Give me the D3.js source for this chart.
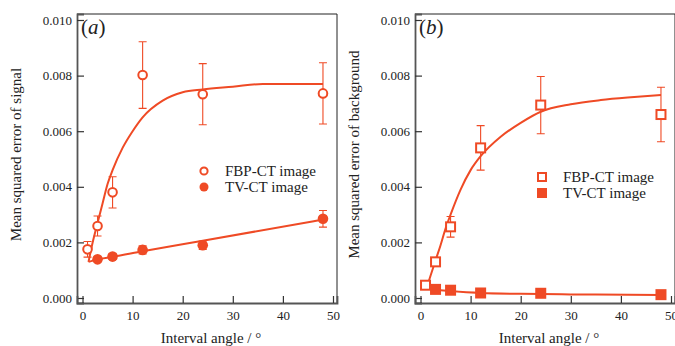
<!DOCTYPE html>
<html>
<head>
<meta charset="utf-8">
<script src="https://cdn.jsdelivr.net/npm/d3@7"></script>
<style>
  body { margin: 0; background: #fff; }
  svg, svg text { font-family: "Liberation Serif", "Times New Roman", serif !important; }
</style>
</head>
<body>
<script>
const angles = [1, 3, 6, 12, 24, 48];

// panel (a) signal
const fbpSignal = [0.00175, 0.00259, 0.0038, 0.00802, 0.00733, 0.00736];
const fbpSignalErr = [0.00028, 0.00036, 0.00056, 0.0012, 0.0011, 0.0011];
const tvSignal = [null, 0.00139, 0.00149, 0.00173, 0.0019, 0.00285];
const tvSignalErr = [null, 0.00008, 0.0001, 0.00015, 0.00015, 0.0003];

// fit curves
const fitAngleA = [1.2, 2, 3, 4, 5, 6, 8, 10, 12, 16, 20, 24, 30, 36, 48];
const fbpSignalFit = [0.0013, 0.00198, 0.0027, 0.0034, 0.0041, 0.0046, 0.0054, 0.006, 0.0065, 0.0071, 0.0074, 0.0075, 0.0076, 0.0077, 0.0077];
const tvFitAngleA = [1.2, 3, 6, 12, 24, 48];
const tvSignalFit = [0.0013, 0.00139, 0.00148, 0.00168, 0.00206, 0.00282];

// panel (b) background
const fbpBack = [0.00046, 0.0013, 0.00256, 0.0054, 0.00694, 0.0066];
const fbpBackErr = [0.00005, 0.00008, 0.00037, 0.0008, 0.00103, 0.00098];
const tvBack = [null, 0.00031, 0.00028, 0.00018, 0.00017, 0.00012];
const tvBackErr = [null, 0.00003, 0.00003, 0.00003, 0.00003, 0.00003];

const fitAngleB = [1.2, 2, 3, 4, 5, 6, 8, 10, 12, 16, 20, 24, 30, 36, 42, 48];
const fbpBackFit = [0.00035, 0.0008, 0.00135, 0.0019, 0.0025, 0.003, 0.0039, 0.0046, 0.0051, 0.0058, 0.0063, 0.0067, 0.00697, 0.00712, 0.00722, 0.0073];
const tvFitAngleB = [1.2, 3, 6, 12, 20, 30, 48];
const tvBackFit = [0.00035, 0.0003, 0.00025, 0.00018, 0.00015, 0.00013, 0.00011];

const xTicks = [0, 10, 20, 30, 40, 50];
const yTicks = [0, 0.002, 0.004, 0.006, 0.008, 0.01];

const color = "#ef4a25";
const font = "'Liberation Serif', 'Times New Roman', serif";

const svg = d3.select("body").append("svg")
  .attr("width", 675)
  .attr("height", 346)
  .style("font-family", font);

function panel(opt) {
  const left = opt.left, top = 14, w = 260, h = 289;
  const g = svg.append("g").attr("transform", `translate(${left},${top})`);

  const x = d3.scaleLinear().domain([-1.1, 50.8]).range([0, w]);
  const y = d3.scaleLinear().domain([-0.00018, 0.010216]).range([h, 0]);

  // frame top and right
  g.append("path")
    .attr("d", `M0,0H${w}V${h}`)
    .attr("fill", "none")
    .attr("stroke", "#222")
    .attr("stroke-width", 1);

  const yAxis = g.append("g")
    .call(d3.axisLeft(y).tickValues(yTicks).tickFormat(d3.format(".3f")).tickSize(-7).tickPadding(5));
  const xAxis = g.append("g")
    .attr("transform", `translate(0,${h})`)
    .call(d3.axisBottom(x).tickValues(xTicks).tickSize(-7).tickPadding(8));
  [xAxis, yAxis].forEach(a => {
    a.attr("font-family", font);
    a.select(".domain").attr("stroke", "#555").attr("stroke-width", 1.8);
    a.selectAll(".tick line").attr("stroke", "#333").attr("stroke-width", 1.2);
    a.selectAll("text").attr("font-size", 13).attr("fill", "#222").style("font-family", font);
  });

  const line = d3.line().curve(d3.curveMonotoneX).x(d => x(d[0])).y(d => y(d[1]));

  g.append("path")
    .datum(d3.zip(opt.fitX, opt.fitY))
    .attr("d", line)
    .attr("fill", "none").attr("stroke", color).attr("stroke-width", 2);
  g.append("path")
    .datum(d3.zip(opt.tvFitX, opt.tvFitY))
    .attr("d", line)
    .attr("fill", "none").attr("stroke", color).attr("stroke-width", 2);

  function errorBars(vals, errs) {
    const pts = angles.map((a, i) => ({ a, v: vals[i], e: errs[i] })).filter(d => d.v != null);
    const eb = g.append("g").attr("stroke", color).attr("stroke-width", 1.1).attr("fill", "none");
    eb.selectAll("path").data(pts).join("path")
      .attr("d", d => {
        const cx = x(d.a), t = y(d.v + d.e), b = y(d.v - d.e);
        return `M${cx},${t}V${b}M${cx - 4},${t}H${cx + 4}M${cx - 4},${b}H${cx + 4}`;
      });
    return pts;
  }

  const fbpPts = errorBars(opt.fbp, opt.fbpErr);
  const tvPts = errorBars(opt.tv, opt.tvErr);

  if (opt.shape === "circle") {
    g.selectAll(".fbp").data(fbpPts).join("circle")
      .attr("cx", d => x(d.a)).attr("cy", d => y(d.v)).attr("r", 4.3)
      .attr("fill", "#fff").attr("stroke", color).attr("stroke-width", 2);
    g.selectAll(".tv").data(tvPts).join("circle")
      .attr("cx", d => x(d.a)).attr("cy", d => y(d.v)).attr("r", 5.3)
      .attr("fill", color);
  } else {
    g.selectAll(".fbp").data(fbpPts).join("rect")
      .attr("x", d => x(d.a) - 4.5).attr("y", d => y(d.v) - 4.5)
      .attr("width", 9).attr("height", 9)
      .attr("fill", "#fff").attr("stroke", color).attr("stroke-width", 2);
    g.selectAll(".tv").data(tvPts).join("rect")
      .attr("x", d => x(d.a) - 5.5).attr("y", d => y(d.v) - 5.5)
      .attr("width", 11).attr("height", 11)
      .attr("fill", color);
  }

  // legend
  const lg = g.append("g").attr("transform", `translate(${opt.legX},${opt.legY})`);
  opt.legend.forEach((label, i) => {
    const ly = i * 16;
    if (opt.shape === "circle") {
      lg.append("circle").attr("cx", 0).attr("cy", ly).attr("r", i === 0 ? 3.6 : 4.5)
        .attr("fill", i === 0 ? "#fff" : color)
        .attr("stroke", i === 0 ? color : "none").attr("stroke-width", 2);
    } else {
      const s = i === 0 ? 8 : 10;
      lg.append("rect").attr("x", -s / 2).attr("y", ly - s / 2).attr("width", s).attr("height", s)
        .attr("fill", i === 0 ? "#fff" : color)
        .attr("stroke", i === 0 ? color : "none").attr("stroke-width", 2);
    }
    lg.append("text").attr("x", 21).attr("y", ly + 5).attr("font-size", 15)
      .attr("fill", "#222").text(label);
  });

  // panel letter
  g.append("text").attr("x", 4).attr("y", 20).attr("font-size", 21).attr("fill", "#222")
    .html('(<tspan font-style="italic">' + opt.letter + '</tspan>)');

  // axis titles
  g.append("text")
    .attr("transform", `translate(${opt.yTitleX},${h / 2 - 4}) rotate(-90)`)
    .attr("text-anchor", "middle").attr("font-size", 15).attr("fill", "#222")
    .text(opt.yTitle);
  g.append("text")
    .attr("x", w / 2 + 4).attr("y", h + 40)
    .attr("text-anchor", "middle").attr("font-size", 15).attr("fill", "#222")
    .text("Interval angle / °");
}

panel({
  left: 77, letter: "a", shape: "circle",
  fbp: fbpSignal, fbpErr: fbpSignalErr, tv: tvSignal, tvErr: tvSignalErr,
  fitX: fitAngleA, fitY: fbpSignalFit, tvFitX: tvFitAngleA, tvFitY: tvSignalFit,
  legend: ["FBP-CT image", "TV-CT image"], legX: 127, legY: 157,
  yTitle: "Mean squared error of signal", yTitleX: -56
});

panel({
  left: 415, letter: "b", shape: "square",
  fbp: fbpBack, fbpErr: fbpBackErr, tv: tvBack, tvErr: tvBackErr,
  fitX: fitAngleB, fitY: fbpBackFit, tvFitX: tvFitAngleB, tvFitY: tvBackFit,
  legend: ["FBP-CT image", "TV-CT image"], legX: 127, legY: 163,
  yTitle: "Mean squared error of background", yTitleX: -56
});
</script>
</body>
</html>
